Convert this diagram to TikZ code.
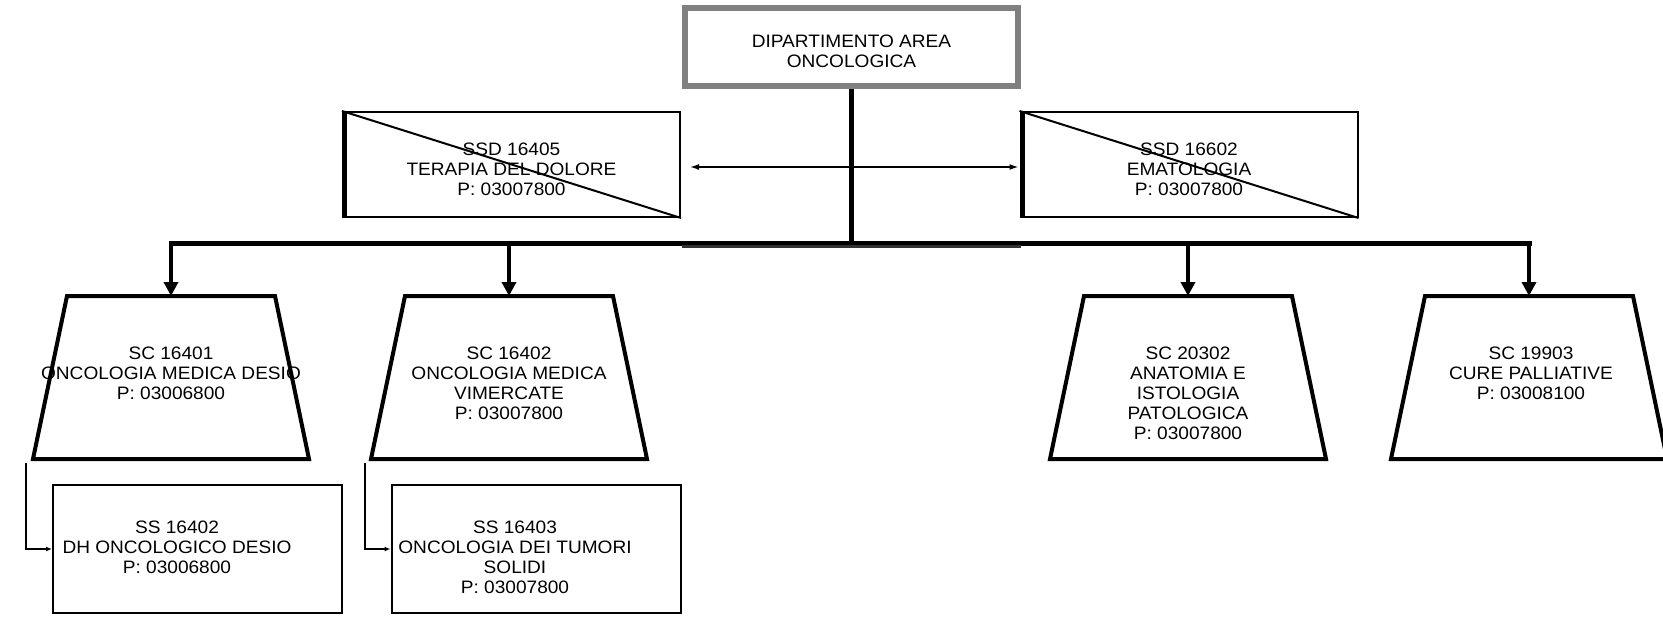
\documentclass[tikz,border=0pt]{standalone}
\usepackage{fontspec}
\setmainfont[FakeStretch=1.06]{Liberation Sans}
\usetikzlibrary{arrows.meta}
\definecolor{bordergray}{RGB}{128,128,128}
\begin{document}
\begin{tikzpicture}[x=1pt,y=-1pt,
  lbl/.style={font=\fontsize{18pt}{20pt}\selectfont, align=center, inner sep=0pt, anchor=base},
  topbox/.style={draw=bordergray, line width=6pt, minimum width=333pt, minimum height=78pt, inner sep=0pt},
  ssdbox/.style={draw, line width=2pt, minimum width=337pt, minimum height=105pt, inner sep=0pt},
  trapbase/.style={minimum width=208pt, minimum height=163pt, inner sep=0pt, outer sep=0pt},
  trapline/.style={line width=4pt, line join=miter},
  ssbox/.style={draw, line width=2pt, minimum width=289pt, minimum height=128pt, inner sep=0pt},
  bus/.style={line width=5pt, line cap=rect},
  down/.style={line width=4pt, -{Triangle[length=14pt,width=14pt]}},
  thinline/.style={line width=1.5pt},
]
\useasboundingbox (0,0) rectangle (1663,621);

% top box
\node[topbox] (dip) at (851.5,47) {};
\node[lbl] (diptxt) at (851.5,67.5) {DIPARTIMENTO AREA\\ONCOLOGICA};

% SSD boxes
\node[ssdbox] (ssdl) at (511.5,164.5) {};
\node[ssdbox] (ssdr) at (1189,164.5) {};
\draw[line width=2pt] (ssdl.north west) -- (ssdl.south east);
\draw[line width=2pt] (ssdr.north west) -- (ssdr.south east);
\draw[line width=5pt] ([xshift=2.5pt]ssdl.north west) -- ([xshift=2.5pt]ssdl.south west);
\draw[line width=5pt] ([xshift=2.5pt]ssdr.north west) -- ([xshift=2.5pt]ssdr.south west);
\node[lbl] (ssdltxt) at (511.5,195.5) {SSD 16405\\TERAPIA DEL DOLORE\\P: 03007800};
\node[lbl] (ssdrtxt) at (1189,195.5) {SSD 16602\\EMATOLOGIA\\P: 03007800};

\draw[thinline, {Latex[length=9pt,width=6pt]}-{Latex[length=9pt,width=6pt]}, shorten <=9pt, shorten >=1pt]
  ([yshift=-2.5pt]ssdl.east) -- ([yshift=-2.5pt]ssdr.west);

% trapezoids
\foreach \n/\x in {t1/171, t2/509, t3/1188, t4/1529}{
  \node[trapbase] (\n) at (\x,377.5) {};
  \draw[trapline] (\n.north west) -- (\n.north east) -- ([xshift=34pt]\n.south east)
    -- ([xshift=-34pt]\n.south west) -- cycle;
}
\node[lbl] (t1txt) at (171,399.5) {SC 16401\\ONCOLOGIA MEDICA DESIO\\P: 03006800};
\node[lbl] (t2txt) at (509,419.5) {SC 16402\\ONCOLOGIA MEDICA\\VIMERCATE\\P: 03007800};
\node[lbl] (t3txt) at (1188,439.5) {SC 20302\\ANATOMIA E\\ISTOLOGIA\\PATOLOGICA\\P: 03007800};
\node[lbl] (t4txt) at (1531,399.5) {SC 19903\\CURE PALLIATIVE\\P: 03008100};

% bus
\coordinate (hub) at (851.5,243);
\draw[line width=5pt] (dip.south) -- (hub);
\draw[bus] (t1.north |- hub) -- (t4.north |- hub);
\draw[line width=3pt, black!80] (682,246.5) -- (1021,246.5);
\draw[down] (t1.north |- hub) -- (t1.north);
\draw[down] (t2.north |- hub) -- (t2.north);
\draw[down] (t3.north |- hub) -- (t3.north);
\draw[down] (t4.north |- hub) -- (t4.north);

% sub boxes
\node[ssbox] (ss1) at (197.5,549) {};
\node[ssbox] (ss2) at (536,549) {};
\node[lbl] (ss1txt) at (177,573.5) {SS 16402\\DH ONCOLOGICO DESIO\\P: 03006800};
\node[lbl] (ss2txt) at (515,593.5) {SS 16403\\ONCOLOGIA DEI TUMORI\\SOLIDI\\P: 03007800};

\coordinate (e1) at (26,463);
\coordinate (e2) at (365,463);
\draw[thinline, -{Latex[length=6pt,width=5pt]}] (e1) |- (ss1.west);
\draw[thinline, -{Latex[length=6pt,width=5pt]}] (e2) |- (ss2.west);
\end{tikzpicture}
\end{document}
